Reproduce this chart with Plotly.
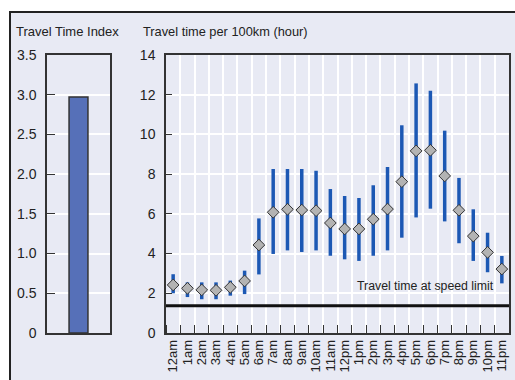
import plotly.graph_objects as go

# ---- data ----
index_value = [2.97]

hours = ["12am", "1am", "2am", "3am", "4am", "5am", "6am", "7am", "8am", "9am", "10am", "11am",
         "12pm", "1pm", "2pm", "3pm", "4pm", "5pm", "6pm", "7pm", "8pm", "9pm", "10pm", "11pm"]
mean_time = [2.42, 2.25, 2.17, 2.15, 2.30, 2.62, 4.43, 6.08, 6.23, 6.19, 6.16, 5.54,
             5.24, 5.24, 5.73, 6.24, 7.62, 9.17, 9.20, 7.91, 6.18, 4.88, 4.06, 3.22]
high_time = [2.96, 2.55, 2.55, 2.55, 2.64, 3.14, 5.77, 8.26, 8.26, 8.26, 8.17, 7.25,
             6.90, 6.80, 7.44, 8.36, 10.46, 12.57, 12.20, 10.19, 7.81, 6.23, 5.05, 3.88]
low_time = [2.00, 1.81, 1.70, 1.70, 1.88, 1.96, 2.95, 3.98, 4.16, 4.08, 4.16, 3.89,
            3.71, 3.63, 3.89, 4.16, 4.80, 5.82, 6.26, 5.62, 4.52, 3.63, 3.06, 2.50]
speed_limit_time = 1.37

left_ticks = [0, 0.5, 1.0, 1.5, 2.0, 2.5, 3.0, 3.5]
left_ticktext = ["0", "0.5", "1.0", "1.5", "2.0", "2.5", "3.0", "3.5"]
right_ticks = [0, 2, 4, 6, 8, 10, 12, 14]

# ---- styles ----
FONT = "Liberation Sans Narrow, Arial Narrow, Liberation Sans, Arial, sans-serif"
BG = "#e8eaf4"
TXT = "#222222"
W, H = 515, 380

def px_x(p):
    return p / W

def px_y(p):
    return 1 - p / H

xs = list(range(len(hours)))
err_plus = [h - m for h, m in zip(high_time, mean_time)]
err_minus = [m - l for m, l in zip(mean_time, low_time)]

fig = go.Figure()

fig.add_trace(go.Bar(
    x=[0], y=index_value, width=0.30,
    marker=dict(color="#5670b8", line=dict(color="#333333", width=1.5)),
    xaxis="x", yaxis="y", showlegend=False, hoverinfo="y",
))

fig.add_trace(go.Scatter(
    x=xs, y=mean_time, mode="markers",
    marker=dict(symbol="diamond", size=9, color="#b3b3b3",
                line=dict(color="#333333", width=1)),
    error_y=dict(type="data", symmetric=False, array=err_plus, arrayminus=err_minus,
                 color="#1c58b4", thickness=3.5, width=0),
    xaxis="x2", yaxis="y2", showlegend=False,
))

shapes = [
    dict(type="rect", xref="paper", yref="paper",
         x0=px_x(10), x1=px_x(530), y0=px_y(395), y1=px_y(12),
         fillcolor=BG, line=dict(color="#222222", width=2), layer="below"),
    dict(type="line", xref="x2 domain", yref="y2", x0=0, x1=1,
         y0=speed_limit_time, y1=speed_limit_time,
         line=dict(color="#111111", width=3)),
]

annotations = [
    dict(text="Travel Time Index", xref="paper", yref="paper",
         x=px_x(14), y=px_y(31), xanchor="left", yanchor="middle",
         showarrow=False, font=dict(family=FONT, size=13, color=TXT)),
    dict(text="Travel time per 100km (hour)", xref="paper", yref="paper",
         x=px_x(141), y=px_y(31), xanchor="left", yanchor="middle",
         showarrow=False, font=dict(family=FONT, size=12.8, color=TXT)),
    dict(text="Travel time at speed limit", xref="paper", yref="paper",
         x=px_x(496), y=px_y(286), xanchor="right", yanchor="middle",
         showarrow=False, font=dict(family=FONT, size=12.3, color=TXT)),
]

line_common = dict(showline=True, linecolor="#333333", linewidth=1.5, mirror=True,
                   zeroline=False, automargin=False)
tickfont = dict(family=FONT, size=14, color=TXT)

fig.update_layout(
    width=W, height=H,
    margin=dict(l=0, r=0, t=0, b=0, pad=0),
    paper_bgcolor="white", plot_bgcolor=BG,
    font=dict(family=FONT, color=TXT),
    shapes=shapes, annotations=annotations,
    xaxis=dict(domain=[px_x(47), px_x(110)], range=[-0.5, 0.5],
               showticklabels=False, ticks="", showgrid=False, fixedrange=True,
               **line_common),
    yaxis=dict(domain=[px_y(333), px_y(55)], range=[0, 3.5],
               tickvals=left_ticks, ticktext=left_ticktext, tickfont=tickfont,
               ticks="inside", ticklen=8, tickcolor="#333333", tickwidth=1,
               showgrid=True, gridcolor="white", gridwidth=1.5, ticklabelstandoff=6,
               **line_common),
    xaxis2=dict(domain=[px_x(166), px_x(509)], range=[-0.5, len(hours) - 0.5],
                anchor="y2", tickvals=xs, ticktext=hours, tickangle=-90,
                ticks="", showgrid=False,
                tickfont=dict(family=FONT, size=13, color=TXT),
                minor=dict(tick0=-0.5, dtick=1, ticks="inside", ticklen=8,
                           tickcolor="#333333", tickwidth=1,
                           showgrid=True, gridcolor="white", gridwidth=1.5),
                **line_common),
    yaxis2=dict(domain=[px_y(333), px_y(55)], range=[0, 14], anchor="x2",
                tickvals=right_ticks, tickfont=tickfont,
                ticks="inside", ticklen=6, tickcolor="#333333", tickwidth=1,
                showgrid=True, gridcolor="white", gridwidth=1.5, ticklabelstandoff=6,
                **line_common),
)

fig.write_html(
    "out.html",
    config={"displayModeBar": False},
    post_script="document.body.style.margin='0';document.body.style.padding='0';"
                "document.documentElement.style.overflow='hidden';"
                "document.body.style.overflow='hidden';",
)
